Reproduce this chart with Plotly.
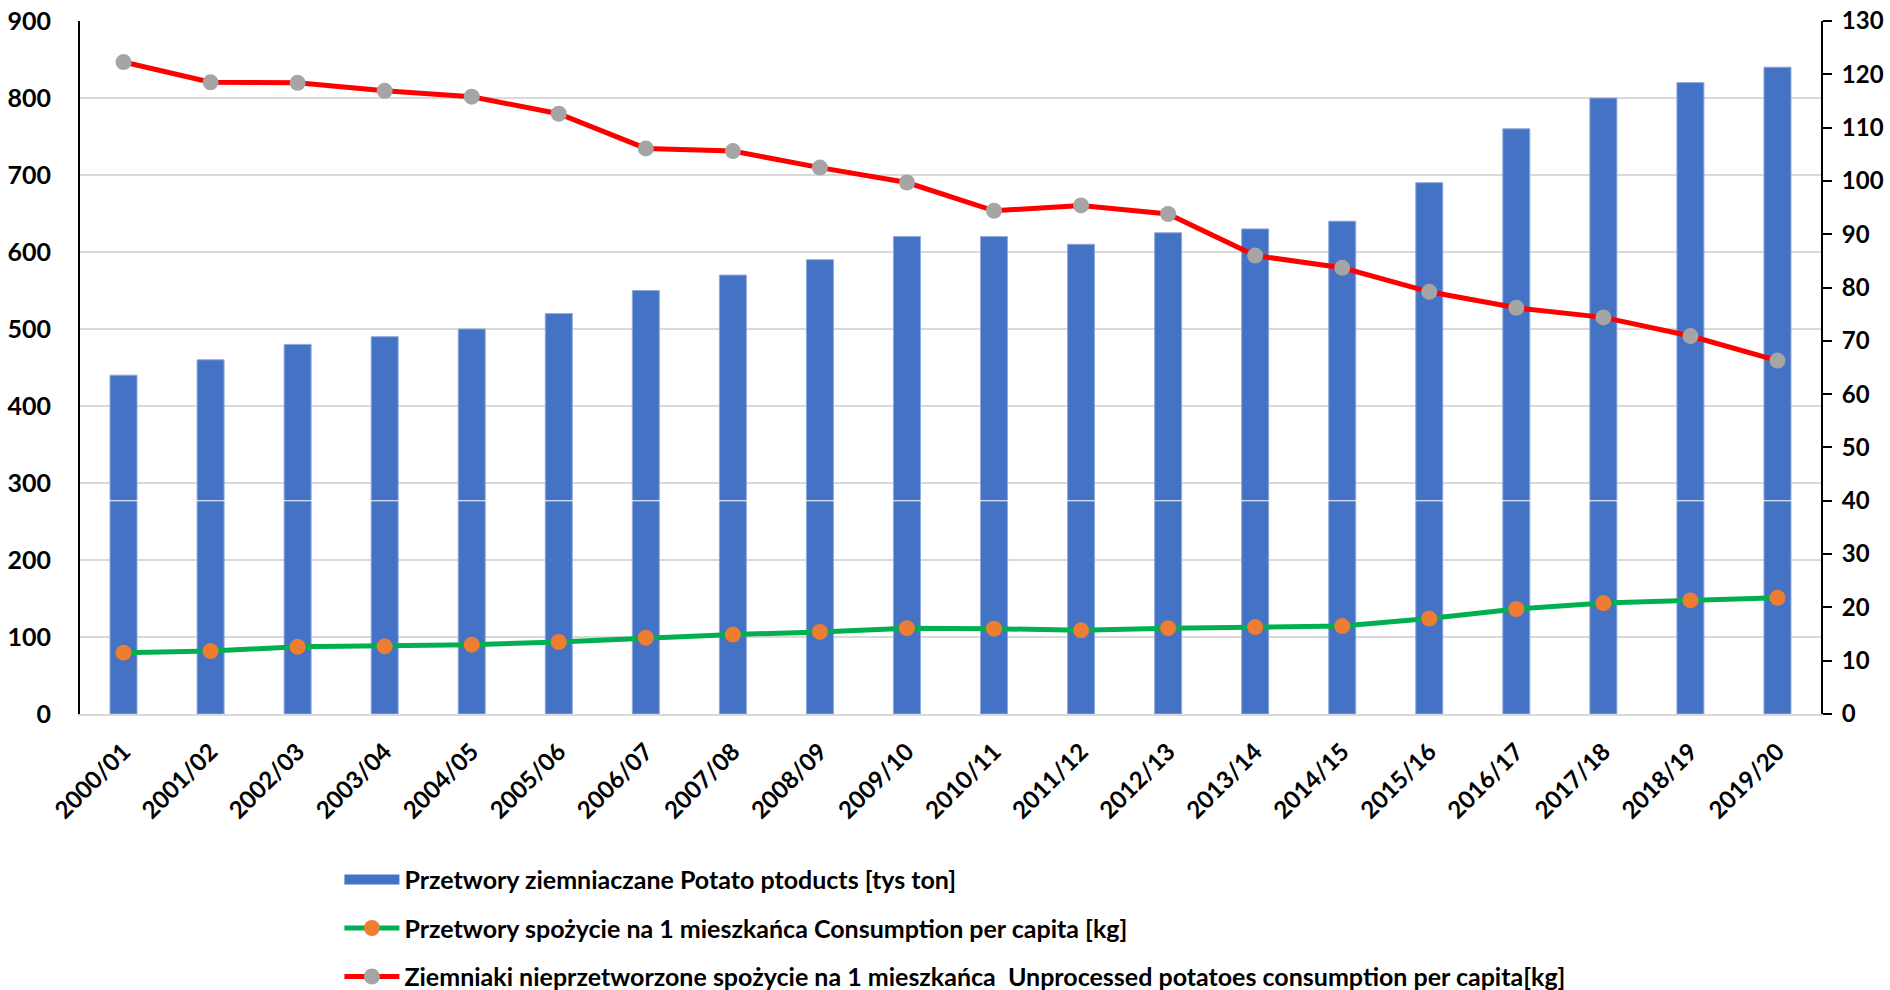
import plotly.graph_objects as go

# Seasons
seasons = ["2000/01", "2001/02", "2002/03", "2003/04", "2004/05", "2005/06", "2006/07",
           "2007/08", "2008/09", "2009/10", "2010/11", "2011/12", "2012/13", "2013/14",
           "2014/15", "2015/16", "2016/17", "2017/18", "2018/19", "2019/20"]

# Potato products [thousand tonnes] - left axis
products_kt = [440, 460, 480, 490, 500, 520, 550, 570, 590, 620,
               620, 610, 625, 630, 640, 690, 760, 800, 820, 840]

# Processed products consumption per capita [kg] - right axis
processed_kg = [11.5, 11.8, 12.6, 12.7, 13.0, 13.5, 14.3, 14.9, 15.4, 16.1,
                16.0, 15.7, 16.1, 16.3, 16.5, 17.9, 19.7, 20.8, 21.3, 21.8]

# Unprocessed potatoes consumption per capita [kg] - right axis
unprocessed_kg = [122.3, 118.5, 118.4, 116.9, 115.8, 112.6, 106.1, 105.6, 102.5, 99.7,
                  94.4, 95.4, 93.8, 86.0, 83.7, 79.2, 76.2, 74.4, 70.9, 66.3]

left_ticks = list(range(0, 901, 100))
right_ticks = list(range(0, 131, 10))

FONT = "Lato"
BAR_NAME = "Przetwory ziemniaczane Potato ptoducts [tys ton]"

fig = go.Figure()

fig.add_trace(go.Bar(
    x=seasons, y=products_kt, name=BAR_NAME,
    marker=dict(color="#4472C4", line=dict(color="#8EA9DB", width=1)),
    width=0.31, showlegend=False,
))

# wide rectangular legend key for the bars
fig.add_trace(go.Scatter(
    x=[None], y=[None], mode="lines", name=BAR_NAME,
    line=dict(color="#4472C4", width=17), legendgroup="a",
))

fig.add_trace(go.Scatter(
    x=seasons, y=processed_kg, yaxis="y2", mode="lines+markers",
    name="Przetwory spożycie na 1 mieszkańca Consumption per capita [kg]",
    line=dict(color="#00B050", width=5),
    marker=dict(color="#ED7D31", size=16),
    legendgroup="b",
))

fig.add_trace(go.Scatter(
    x=seasons, y=unprocessed_kg, yaxis="y2", mode="lines+markers",
    name="Ziemniaki nieprzetworzone spożycie na 1 mieszkańca  Unprocessed potatoes consumption per capita[kg]",
    line=dict(color="#FF0000", width=5),
    marker=dict(color="#A5A5A5", size=16),
    legendgroup="c",
))

fig.update_layout(
    width=1890, height=990,
    margin=dict(l=80, r=69, t=21, b=276, autoexpand=False),
    paper_bgcolor="white", plot_bgcolor="white",
    font=dict(family=FONT, size=24, color="black"),
    showlegend=True,
    legend=dict(
        x=0.149, xanchor="left", y=-0.206, yanchor="top",
        orientation="v", traceorder="grouped", tracegroupgap=13,
        itemwidth=55,
        font=dict(family=FONT, size=25, color="black", weight="bold"),
        bgcolor="rgba(0,0,0,0)",
    ),
    xaxis=dict(
        type="category", range=[-0.5, 19.5],
        tickangle=-45,
        tickfont=dict(family=FONT, size=24, color="black", weight="bold"),
        showline=True, linecolor="#D9D9D9", linewidth=2,
        showgrid=False, ticks="", ticklabelstandoff=12,
    ),
    yaxis=dict(
        range=[0, 900], tickvals=left_ticks,
        tickfont=dict(family=FONT, size=25, color="black", weight="bold"),
        showgrid=True, gridcolor="#D9D9D9", gridwidth=2,
        showline=True, linecolor="black", linewidth=2,
        zeroline=False, ticks="", ticklabelstandoff=22,
    ),
    yaxis2=dict(
        range=[0, 130], tickvals=right_ticks,
        overlaying="y", side="right",
        tickfont=dict(family=FONT, size=24, color="black", weight="bold"),
        showgrid=False, zeroline=False,
        showline=True, linecolor="black", linewidth=2,
        ticks="outside", ticklen=9, tickwidth=2, tickcolor="black",
        ticklabelstandoff=5,
    ),
    bargap=0.69,
    shapes=[dict(
        type="line", xref="paper", x0=0, x1=1, yref="y2", y0=40, y1=40,
        line=dict(color="white", width=1), layer="above",
    )],
)

fig.write_html("out.html")
